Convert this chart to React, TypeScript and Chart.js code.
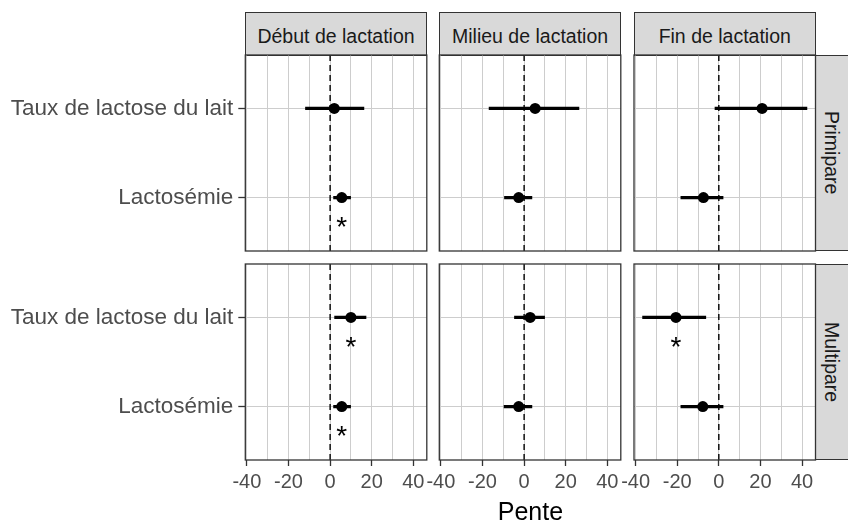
import React, { useEffect, useRef } from 'react';
import { Chart, registerables } from 'chart.js';

Chart.register(...registerables);

// ---------- data ----------
const columns = ['Début de lactation', 'Milieu de lactation', 'Fin de lactation'];
const rows = ['Primipare', 'Multipare'];
const variables = ['Lactosémie', 'Taux de lactose du lait']; // y = 1, 2

// Primipare (values per column: Début, Milieu, Fin)
const primLactoseEst = [2.0, 5.3, 20.8];
const primLactoseLow = [-12.0, -17.0, -2.0];
const primLactoseHigh = [16.4, 26.5, 42.5];
const primLactoseSig = [false, false, false];
const primLactosemieEst = [5.6, -2.6, -7.4];
const primLactosemieLow = [1.5, -9.6, -18.4];
const primLactosemieHigh = [10.0, 3.9, 2.2];
const primLactosemieSig = [true, false, false];

// Multipare
const multLactoseEst = [10.0, 2.9, -20.6];
const multLactoseLow = [2.0, -4.8, -36.8];
const multLactoseHigh = [17.4, 10.0, -6.1];
const multLactoseSig = [true, false, true];
const multLactosemieEst = [5.6, -2.6, -7.7];
const multLactosemieLow = [1.5, -9.8, -18.4];
const multLactosemieHigh = [10.0, 3.9, 2.2];
const multLactosemieSig = [true, false, false];

const xGridValues = [-40, -30, -20, -10, 0, 10, 20, 30, 40];
const xTickLabels = [-40, -20, 0, 20, 40];
const xTitle = 'Pente';

// ---------- assembled tables [row][variable][column] ----------
const EST = [[primLactosemieEst, primLactoseEst], [multLactosemieEst, multLactoseEst]];
const LOW = [[primLactosemieLow, primLactoseLow], [multLactosemieLow, multLactoseLow]];
const HIGH = [[primLactosemieHigh, primLactoseHigh], [multLactosemieHigh, multLactoseHigh]];
const SIG = [[primLactosemieSig, primLactoseSig], [multLactosemieSig, multLactoseSig]];

const allLow = Math.min(...LOW.flat(2));
const allHigh = Math.max(...HIGH.flat(2));
const span = allHigh - allLow;
const X_MIN = allLow - 0.05 * span;
const X_MAX = allHigh + 0.05 * span;

// ---------- layout ----------
const W = 848;
const H = 524;
const FONT = "'Liberation Sans', Arial, sans-serif";
const colLeft = [245.3, 439.3, 634];
const panelW = 181.5;
const rowTop = [55, 264];
const panelH = 196;
const stripTop = 12;
const stripW = 43;
const xAxisH = 40;
const STAR_OFFSET = 0.28;

const borderPlugin = {
  id: 'panelBorder',
  afterDraw(chart: any) {
    const { ctx, chartArea: a } = chart;
    ctx.save();
    ctx.strokeStyle = '#333333';
    ctx.lineWidth = 1.3;
    ctx.strokeRect(a.left, a.top, a.width, a.height);
    ctx.restore();
  },
};

const starPlugin = {
  id: 'stars',
  afterDatasetsDraw(chart: any, _args: any, opts: any) {
    const { ctx } = chart;
    const xs = chart.scales.x;
    const ys = chart.scales.y;
    ctx.save();
    ctx.fillStyle = '#000000';
    ctx.font = `28px ${FONT}`;
    ctx.textAlign = 'center';
    ctx.textBaseline = 'alphabetic';
    const m = ctx.measureText('*');
    const mid = (m.actualBoundingBoxAscent - m.actualBoundingBoxDescent) / 2;
    (opts.items || []).forEach((it: any) => {
      const px = xs.getPixelForValue(it.x);
      const py = ys.getPixelForValue(it.y);
      ctx.fillText('*', px, py + mid);
    });
    ctx.restore();
  },
};

function Panel({ r, c }: { r: number; c: number }) {
  const ref = useRef<HTMLCanvasElement | null>(null);
  useEffect(() => {
    if (!ref.current) return;
    const isLeft = c === 0;
    const isBottom = r === rows.length - 1;
    const yAxisW = isLeft ? colLeft[0] : 0;
    const xH = isBottom ? xAxisH : 0;

    const points = variables.map((_, i) => ({ x: EST[r][i][c], y: i + 1 }));
    const bars = variables.map((_, i) => ({
      label: 'ci' + i,
      data: [
        { x: LOW[r][i][c], y: i + 1 },
        { x: HIGH[r][i][c], y: i + 1 },
      ],
      showLine: true,
      borderColor: '#000000',
      borderWidth: 3.3,
      borderCapStyle: 'butt',
      pointRadius: 0,
      order: 1,
    }));
    const stars = variables
      .map((_, i) => ({ x: EST[r][i][c], y: i + 1 - STAR_OFFSET, s: SIG[r][i][c] }))
      .filter((d) => d.s);

    const chart = new Chart(ref.current, {
      type: 'scatter',
      data: {
        datasets: [
          {
            label: 'est',
            data: points,
            pointRadius: 5.5,
            pointBackgroundColor: '#000000',
            pointBorderWidth: 0,
            order: 0,
          } as any,
          ...(bars as any[]),
          {
            label: 'zero',
            data: [
              { x: 0, y: 0.4 },
              { x: 0, y: 2.6 },
            ],
            showLine: true,
            borderColor: '#000000',
            borderWidth: 1.4,
            borderDash: [6, 4],
            pointRadius: 0,
            order: 2,
          } as any,
        ],
      },
      options: {
        responsive: false,
        animation: false,
        devicePixelRatio: 1,
        events: [],
        layout: {
          padding: {
            left: isLeft ? 0 : colLeft[c],
            right: W - colLeft[c] - panelW,
            top: rowTop[r],
            bottom: H - rowTop[r] - panelH - xH,
          },
        },
        plugins: {
          legend: { display: false },
          tooltip: { enabled: false },
          stars: { items: stars },
        } as any,
        scales: {
          x: {
            type: 'linear',
            min: X_MIN,
            max: X_MAX,
            afterBuildTicks: (s: any) => {
              s.ticks = xGridValues.map((v) => ({ value: v }));
            },
            afterFit: (s: any) => {
              s.height = xH;
            },
            border: { display: false },
            grid: {
              color: '#cdcdcd',
              lineWidth: 1,
              drawTicks: isBottom,
              tickLength: 6,
              tickWidth: 1.3,
              tickColor: (ctx: any) =>
                ctx.tick && xTickLabels.includes(ctx.tick.value) ? '#333333' : 'rgba(0,0,0,0)',
            },
            ticks: {
              display: isBottom,
              autoSkip: false,
              maxRotation: 0,
              padding: 4,
              color: '#4d4d4d',
              font: { family: FONT, size: 20 },
              callback: (v: any) => (xTickLabels.includes(Number(v)) ? String(v) : ''),
            },
          },
          y: {
            type: 'linear',
            min: 0.4,
            max: 2.6,
            afterBuildTicks: (s: any) => {
              s.ticks = variables.map((_, i) => ({ value: i + 1 }));
            },
            afterFit: (s: any) => {
              s.width = yAxisW;
            },
            border: { display: false },
            grid: {
              color: '#cdcdcd',
              lineWidth: 1,
              drawTicks: isLeft,
              tickLength: 7,
              tickWidth: 1.3,
              tickColor: '#333333',
            },
            ticks: {
              display: isLeft,
              padding: 5,
              color: '#4d4d4d',
              font: { family: FONT, size: 22.5 },
              callback: (v: any) => variables[Math.round(Number(v)) - 1],
            },
          },
        },
      } as any,
      plugins: [borderPlugin, starPlugin],
    });
    return () => chart.destroy();
  }, [r, c]);
  return (
    <canvas
      ref={ref}
      width={W}
      height={H}
      style={{ position: 'absolute', left: 0, top: 0, width: W, height: H }}
    />
  );
}

const stripBase: React.CSSProperties = {
  position: 'absolute',
  boxSizing: 'border-box',
  background: '#d9d9d9',
  border: '1.3px solid #333333',
  color: '#1a1a1a',
  fontFamily: FONT,
  fontSize: 19.5,
  display: 'flex',
  alignItems: 'center',
  justifyContent: 'center',
  whiteSpace: 'nowrap',
};

export default function App() {
  useEffect(() => {
    document.body.style.margin = '0';
  }, []);
  return (
    <div
      style={{
        position: 'absolute',
        left: 0,
        top: 0,
        width: W,
        height: H,
        overflow: 'hidden',
        background: '#ffffff',
      }}
    >
      {columns.map((name, c) => (
        <div
          key={'top' + c}
          style={{
            ...stripBase,
            left: colLeft[c],
            top: stripTop,
            width: panelW,
            height: rowTop[0] - stripTop + 0.7,
            paddingTop: 5,
          }}
        >
          {name}
        </div>
      ))}
      {rows.map((name, r) => (
        <div
          key={'side' + r}
          style={{
            ...stripBase,
            left: colLeft[2] + panelW - 0.7,
            top: rowTop[r],
            width: stripW,
            height: panelH,
            writingMode: 'vertical-rl',
            paddingRight: 10,
          }}
        >
          {name}
        </div>
      ))}
      {rows.map((_, r) => columns.map((__, c) => <Panel key={r + '-' + c} r={r} c={c} />))}
      <div
        style={{
          position: 'absolute',
          left: colLeft[0],
          width: colLeft[2] + panelW - colLeft[0],
          top: 498,
          textAlign: 'center',
          fontFamily: FONT,
          fontSize: 25,
          lineHeight: '26px',
          color: '#000000',
        }}
      >
        {xTitle}
      </div>
    </div>
  );
}
